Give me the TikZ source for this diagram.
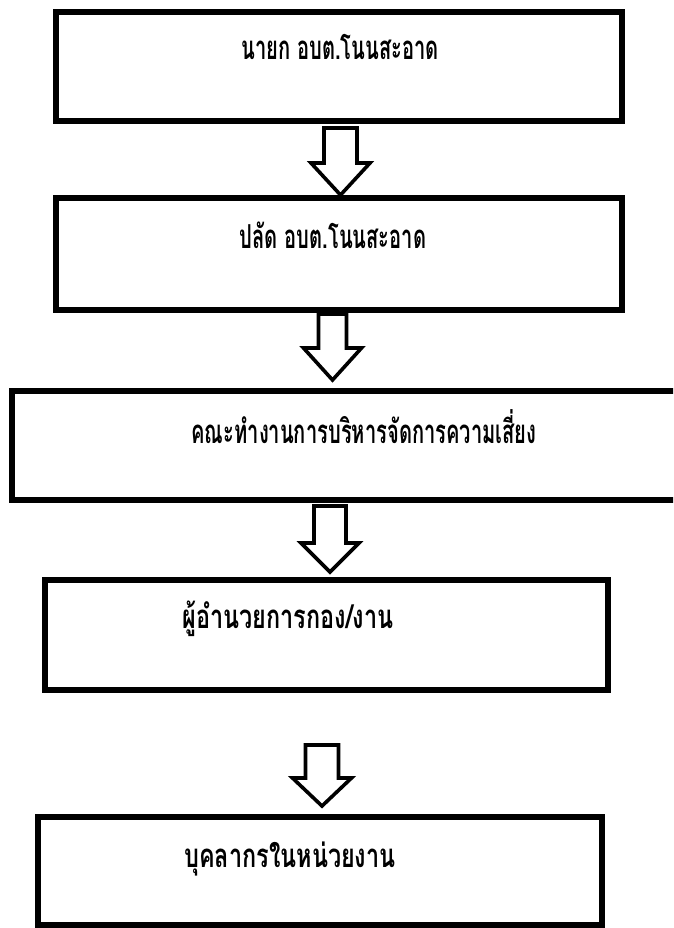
\documentclass[tikz,border=0pt]{standalone}
\usepackage{fontspec}
\newfontfamily\thaifont[Script=Thai,FakeStretch=0.61]{Loma}
\newfontfamily\thaifontw[Script=Thai,FakeStretch=0.71]{Loma}
\tikzset{
  boxln/.style={draw=black, line width=6pt, fill=none, inner sep=0pt},
  lbl/.style={anchor=base, inner sep=0pt, font=\thaifont\bfseries\fontsize{33}{36}\selectfont},
  lblw/.style={anchor=base, inner sep=0pt, font=\thaifontw\bfseries\fontsize{33}{36}\selectfont},
  barrow/.style={draw=black, line width=3.6pt, fill=white, line join=miter}
}
\newcommand{\blockarr}[7]{% name, x, ytop, halfshaft, wingy, halfhead, ytip
  \draw[barrow] (#2-#4,#3) -- (#2+#4,#3) -- (#2+#4,#5) -- (#2+#6,#5) -- (#2,#7) -- (#2-#6,#5) -- (#2-#4,#5) -- cycle;
  \coordinate (#1) at (#2,#7);
}
\begin{document}
\begin{tikzpicture}[x=1pt,y=-1pt]
\clip (0,0) rectangle (673,928);
\fill[white] (0,0) rectangle (673,928);
% boxes
\node[boxln, minimum width=566pt, minimum height=109pt] (b1) at (339,66.5) {};
\node[boxln, minimum width=566pt, minimum height=112pt] (b2) at (339,254) {};
\node[boxln, minimum width=700pt, minimum height=109pt] (b3) at (362,445.5) {};
\node[boxln, minimum width=563pt, minimum height=110pt] (b4) at (326.5,635) {};
\node[boxln, minimum width=564pt, minimum height=108pt] (b5) at (320,871) {};
% labels
\node[lbl] (t1) at (340,60) {นายก อบต.โนนสะอาด};
\node[lbl] (t2) at (333,248) {ปลัด อบต.โนนสะอาด};
\node[lbl] (t3) at (364,443) {คณะทำงานการบริหารจัดการความเสี่ยง};
\node[lblw] (t4) at (288,628) {ผู้อำนวยการกอง/งาน};
\node[lblw] (t5) at (290,867) {บุคลากรในหน่วยงาน};
% block arrows
\blockarr{a1}{340.5}{128}{16.5}{163}{29.5}{195}
\blockarr{a2}{332.5}{314}{14}{348}{29}{380}
\blockarr{a3}{330}{506}{16}{543}{29}{572}
\blockarr{a4}{322}{745}{16.5}{778}{29.5}{806}
\end{tikzpicture}
\end{document}
